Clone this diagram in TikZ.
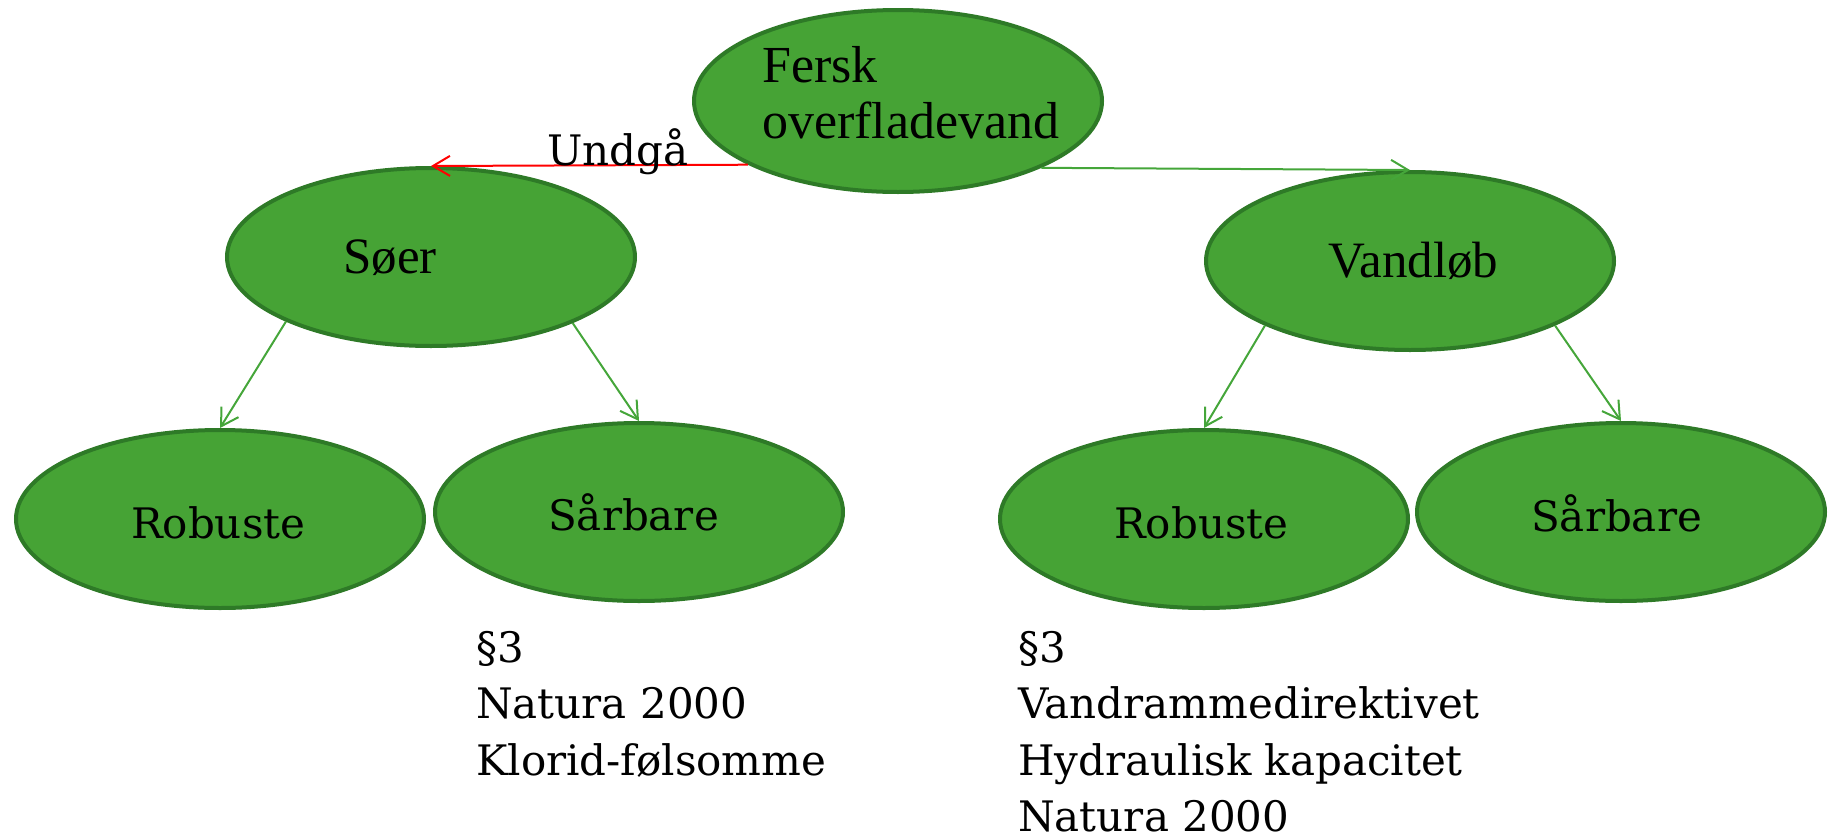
\documentclass[tikz,border=0pt]{standalone}
\usepackage{fontspec}
\setmainfont{Liberation Serif}
\newfontfamily\notefont{DejaVu Serif}
\usetikzlibrary{shapes.geometric,arrows.meta}

\definecolor{leaf}{HTML}{46A335}
\definecolor{leafedge}{HTML}{2E7A27}
\definecolor{linkgreen}{HTML}{45A63A}
\definecolor{linkred}{HTML}{FF0000}

\tikzset{
  blob/.style={ellipse, draw=leafedge, fill=leaf, line width=4pt,
    minimum width=408pt, minimum height=178pt, inner sep=0pt},
  tag/.style={anchor=base west, inner sep=0pt, font=\fontsize{51}{56}\selectfont},
  leaftag/.style={anchor=base west, inner sep=0pt, font=\notefont\fontsize{42}{50}\selectfont},
  note/.style={anchor=north west, inner sep=0pt, align=left,
    font=\notefont\fontsize{42}{56.5}\selectfont},
  link/.style={draw=linkgreen, line width=2pt,
    -{Straight Barb[length=17pt,width=20pt,line width=2pt]}},
  avoid/.style={draw=linkred, line width=2pt,
    -{Straight Barb[length=17pt,width=20pt,line width=2pt]}},
}

\begin{document}
\begin{tikzpicture}[x=1pt,y=-1pt]
\useasboundingbox (0,0) rectangle (1829,838);

% ellipses
\node[blob, minimum height=182pt] (fersk) at (898,101) {};
\node[blob] (soer)    at (431,257) {};
\node[blob] (vandlob) at (1410,261) {};
\node[blob] (robL)    at (220,519) {};
\node[blob] (saaL)    at (639,512) {};
\node[blob] (robR)    at (1204,519) {};
\node[blob] (saaR)    at (1621,512) {};

% labels inside the ellipses
\node[anchor=north west, inner sep=0pt, align=left,
      font=\fontsize{52}{56}\selectfont] (ferskT) at (762,46) {Fersk\\overfladevand};
\node[tag] (soerT)    at (343,273) {Søer};
\node[tag] (vandlobT) at (1328,277) {Vandløb};
\node[leaftag] (robLT) at (131,538) {Robuste};
\node[leaftag] (saaLT) at (548,530) {Sårbare};
\node[leaftag] (robRT) at (1114,538) {Robuste};
\node[leaftag] (saaRT) at (1531,531) {Sårbare};

% connectors
\draw[avoid] (fersk.203.8) -- node[pos=0.41, anchor=base, inner sep=0pt,
  font=\notefont\fontsize{42}{50}\selectfont] (undga) {Undgå} (soer.north);
\draw[link] (fersk.335.8) -- (vandlob.north);
\draw[link] (soer.204.6) -- (robL.north);
\draw[link] (soer.335.7) -- (saaL.north);
\draw[link] (vandlob.204) -- (robR.north);
\draw[link] (vandlob.336) -- (saaR.north);

% notes below
\node[note] (noteL) at (476,631) {§3\\Natura 2000\\Klorid-følsomme};
\node[note] (noteR) at (1018,631) {§3\\Vandrammedirektivet\\Hydraulisk kapacitet\\Natura 2000};
\end{tikzpicture}
\end{document}
